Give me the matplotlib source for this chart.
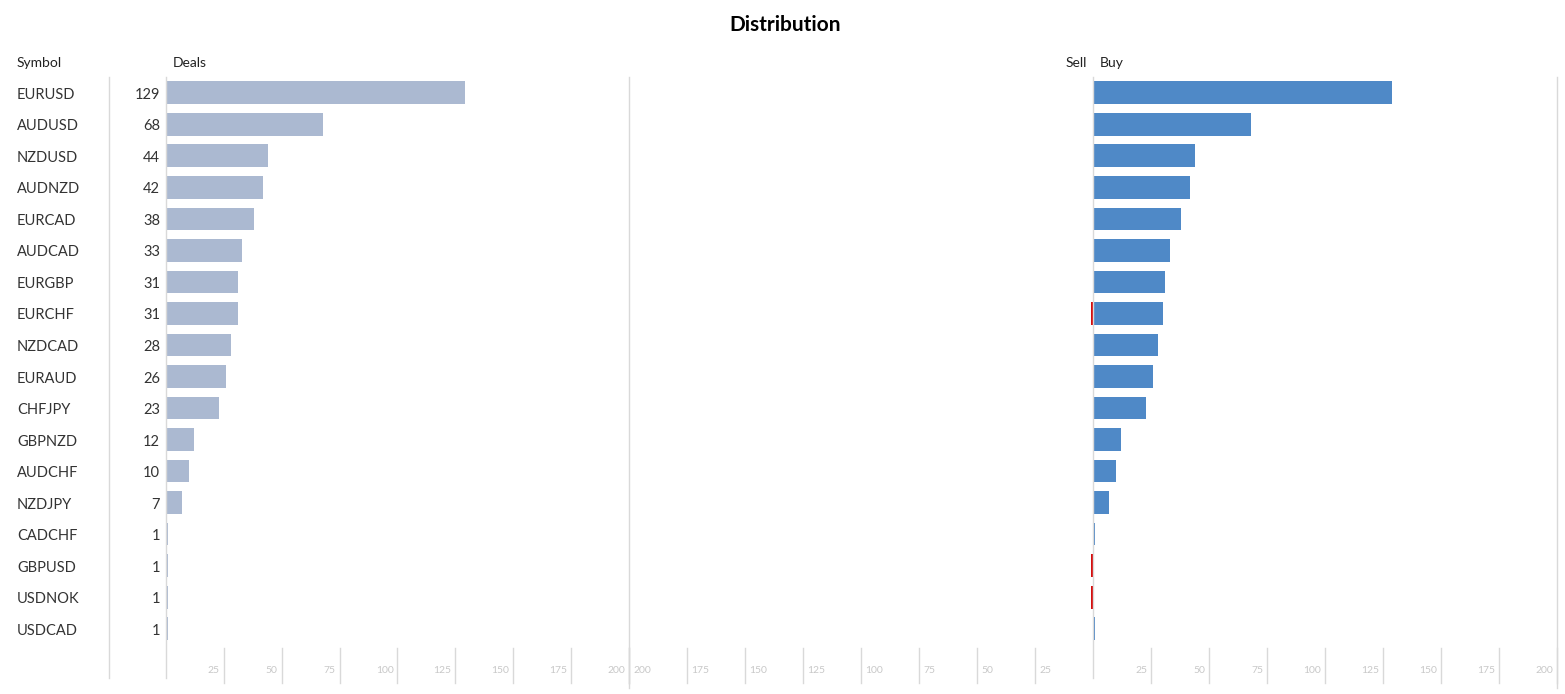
import matplotlib.pyplot as plt
from matplotlib import transforms

plt.rcParams['font.family'] = ['Lato', 'DejaVu Sans']

# datos
symbols = ["EURUSD", "AUDUSD", "NZDUSD", "AUDNZD", "EURCAD", "AUDCAD", "EURGBP", "EURCHF",
           "NZDCAD", "EURAUD", "CHFJPY", "GBPNZD", "AUDCHF", "NZDJPY", "CADCHF", "GBPUSD",
           "USDNOK", "USDCAD"]
deals = [129, 68, 44, 42, 38, 33, 31, 31, 28, 26, 23, 12, 10, 7, 1, 1, 1, 1]
sell = [0, 0, 0, 0, 0, 0, 0, 1, 0, 0, 0, 0, 0, 0, 0, 1, 1, 0]
buy = [129, 68, 44, 42, 38, 33, 31, 30, 28, 26, 23, 12, 10, 7, 1, 0, 0, 1]
ticks = [25, 50, 75, 100, 125, 150, 175, 200]

W, H = 1565, 694
fig = plt.figure(figsize=(W / 100, H / 100), dpi=100)


def axes_px(x0, x1, y0, y1):
    return fig.add_axes([x0 / W, 1 - y1 / H, (x1 - x0) / W, (y1 - y0) / H])


line_c = "#d9d9d9"
tick_c = "#c8c8c8"
text_c = "#333333"
y_top, y_bot = -0.5, 18.88
y_zero_end = 18.56
y_tick0, y_tick1 = 17.61, 18.72
y_lab = 18.31
pos = list(range(len(symbols)))

ax_d = axes_px(166, 629, 77, 688)
ax_s = axes_px(629, 1093, 77, 688)
ax_b = axes_px(1093, 1557, 77, 688)

for ax in (ax_d, ax_s, ax_b):
    ax.set_ylim(y_bot, y_top)
    ax.axis("off")
ax_d.set_xlim(0, 200)
ax_s.set_xlim(200, 0)
ax_b.set_xlim(0, 200)

ax_d.barh(pos, deals, height=0.72, color="#abb9d1")
ax_s.barh(pos, sell, height=0.72, color="#d40f0f")
ax_b.barh(pos, buy, height=0.72, color="#4f89c7")

# lineas del cero y separadores
ax_d.plot([0, 0], [y_top, y_zero_end], color=line_c, lw=1, clip_on=False)
ax_b.plot([0, 0], [y_top, y_zero_end], color=line_c, lw=1, clip_on=False)
ax_d.plot([200, 200], [y_top, y_bot], color=line_c, lw=1, clip_on=False)
ax_b.plot([200, 200], [y_top, y_bot], color=line_c, lw=1, clip_on=False)

# ticks
for ax, side in ((ax_d, -1), (ax_s, 1), (ax_b, -1)):
    off = transforms.offset_copy(ax.transData, fig=fig, x=4 * side, y=0, units="dots")
    for t in ticks:
        ax.plot([t, t], [y_tick0, y_tick1], color=line_c, lw=1, clip_on=False)
        ax.text(t, y_lab, str(t), transform=off, fontsize=7.5, color=tick_c,
                ha="right" if side < 0 else "left", va="center")

# columnas de simbolo y cantidad
blend = transforms.blended_transform_factory(fig.transFigure, ax_d.transData)
blend_txt = transforms.offset_copy(blend, fig=fig, x=0, y=-2, units="dots")
ax_d.plot([109 / W, 109 / W], [y_top, y_zero_end], color=line_c, lw=1,
          transform=blend, clip_on=False)
for i, (s, d) in enumerate(zip(symbols, deals)):
    ax_d.text(17 / W, i, s, transform=blend_txt, fontsize=10.5, color=text_c,
              ha="left", va="center")
    ax_d.text(160 / W, i, str(d), transform=blend_txt, fontsize=10.5, color=text_c,
              ha="right", va="center")

# encabezados
hy = 1 - 63 / H
fig.text(17 / W, hy, "Symbol", fontsize=10, color="#222222", va="center")
fig.text(173 / W, hy, "Deals", fontsize=10, color="#222222", va="center")
fig.text(1087 / W, hy, "Sell", fontsize=10, color="#222222", va="center", ha="right")
fig.text(1100 / W, hy, "Buy", fontsize=10, color="#222222", va="center")
fig.text(785 / W, 1 - 25 / H, "Distribution", fontsize=15, fontweight="bold",
         color="black", ha="center", va="center")

fig.savefig("out.png", dpi=100)
